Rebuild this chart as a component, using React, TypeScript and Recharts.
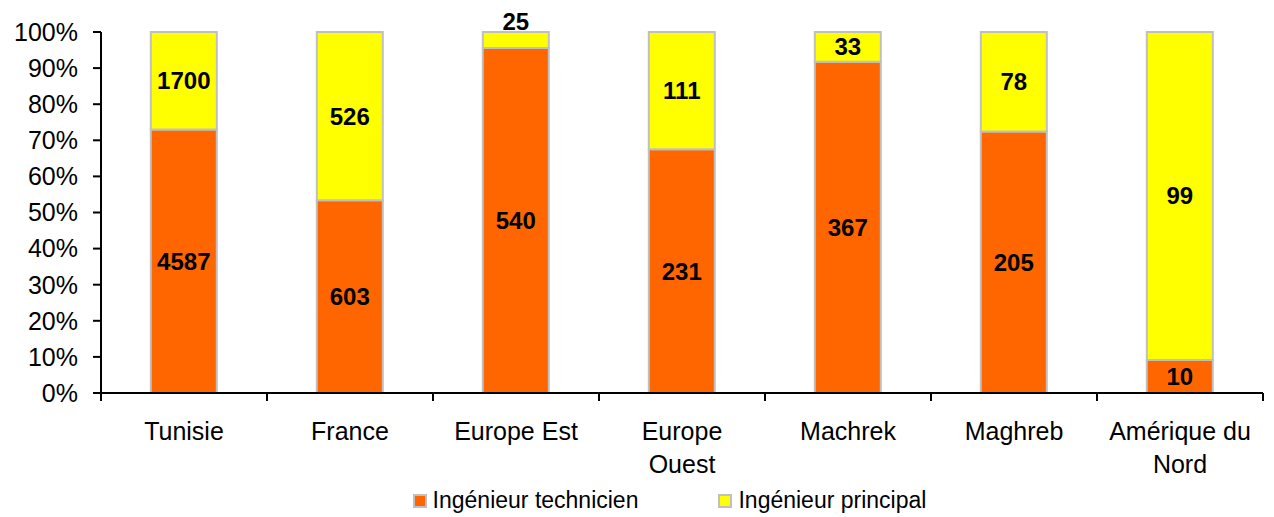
import { BarChart, Bar, XAxis, YAxis, Legend, LabelList } from 'recharts'

const categories = ['Tunisie', 'France', 'Europe Est', 'Europe\nOuest', 'Machrek', 'Maghreb', 'Amérique du\nNord']
const technicien = [4587, 603, 540, 231, 367, 205, 10]
const principal = [1700, 526, 25, 111, 33, 78, 99]
const yTicks = [0, 0.1, 0.2, 0.3, 0.4, 0.5, 0.6, 0.7, 0.8, 0.9, 1]
const seriesOrder = ['technicien', 'principal']

const data = categories.map((name, i) => ({
  name,
  technicien: technicien[i],
  principal: principal[i],
}))

const FONT = '"Liberation Sans", Arial, sans-serif'
const X_TICK = 8
const X_GAP = 21

function SegmentLabel(props: any) {
  const box = props.viewBox && props.viewBox.width != null ? props.viewBox : props
  const { x, y, width, height } = box
  const small = height < 20
  const cy = small ? y - 11 : y + height / 2
  return (
    <text
      x={x + width / 2}
      y={cy}
      textAnchor="middle"
      dominantBaseline="central"
      fontWeight="bold"
      fontSize={24}
      fontFamily={FONT}
      fill="#000"
    >
      {props.value}
    </text>
  )
}

// Excel-style: tick marks between categories, label in the middle
function CategoryTick(props: any) {
  const { x, y, payload, index, visibleTicksCount } = props
  const half = payload.offset || 0
  const axisY = y - X_TICK - X_GAP
  const lines = String(payload.value).split('\n')
  return (
    <g>
      <line x1={x - half} x2={x - half} y1={axisY} y2={axisY + X_TICK} stroke="#000" strokeWidth={2} />
      {index === visibleTicksCount - 1 && (
        <line x1={x + half} x2={x + half} y1={axisY} y2={axisY + X_TICK} stroke="#000" strokeWidth={2} />
      )}
      <text x={x} y={y} textAnchor="middle" fontSize={25} fontFamily={FONT} fill="#000">
        {lines.map((ln, i) => (
          <tspan key={i} x={x} dy={i === 0 ? '0.71em' : 33}>
            {ln}
          </tspan>
        ))}
      </text>
    </g>
  )
}

function LegendBox(props: any) {
  const items = [...(props.payload || [])].sort(
    (a: any, b: any) => seriesOrder.indexOf(a.dataKey) - seriesOrder.indexOf(b.dataKey)
  )
  return (
    <div
      style={{
        display: 'flex',
        justifyContent: 'center',
        paddingLeft: 76,
        fontFamily: FONT,
        fontSize: 23,
        color: '#000',
      }}
    >
      {items.map((it: any, i: number) => (
        <div key={i} style={{ display: 'flex', alignItems: 'center', marginRight: i === 0 ? 80 : 0 }}>
          <span
            style={{
              display: 'inline-block',
              width: 10,
              height: 10,
              background: it.color,
              border: '2px solid #C0C0C0',
              marginRight: 6,
            }}
          />
          <span>{it.value}</span>
        </div>
      ))}
    </div>
  )
}

export default function App() {
  return (
    <div style={{ position: 'absolute', left: 0, top: 0, width: 1274, height: 517, background: '#fff', fontFamily: FONT }}>
      <BarChart
        width={1274}
        height={517}
        data={data}
        stackOffset="expand"
        barCategoryGap="30%"
        margin={{ top: 32, right: 11, bottom: 0, left: 0 }}
      >
        <XAxis
          dataKey="name"
          height={94}
          interval={0}
          axisLine={{ stroke: '#000', strokeWidth: 2 }}
          tickLine={false}
          tickSize={X_TICK}
          tickMargin={X_GAP}
          tick={<CategoryTick />}
        />
        <YAxis
          width={101}
          domain={[0, 1]}
          ticks={yTicks}
          interval={0}
          tickFormatter={(v: number) => `${Math.round(v * 100)}%`}
          tickSize={8}
          tickMargin={15}
          axisLine={{ stroke: '#000', strokeWidth: 2 }}
          tickLine={{ stroke: '#000', strokeWidth: 2 }}
          tick={{ fill: '#000', fontSize: 25, fontFamily: FONT }}
        />
        <Legend verticalAlign="bottom" height={30} content={<LegendBox />} />
        <Bar
          dataKey="technicien"
          name="Ingénieur technicien"
          stackId="a"
          fill="#FF6600"
          stroke="#C0C0C0"
          strokeWidth={2}
          isAnimationActive={false}
        >
          <LabelList dataKey="technicien" content={<SegmentLabel />} />
        </Bar>
        <Bar
          dataKey="principal"
          name="Ingénieur principal"
          stackId="a"
          fill="#FFFF00"
          stroke="#C0C0C0"
          strokeWidth={2}
          isAnimationActive={false}
        >
          <LabelList dataKey="principal" content={<SegmentLabel />} />
        </Bar>
      </BarChart>
    </div>
  )
}
